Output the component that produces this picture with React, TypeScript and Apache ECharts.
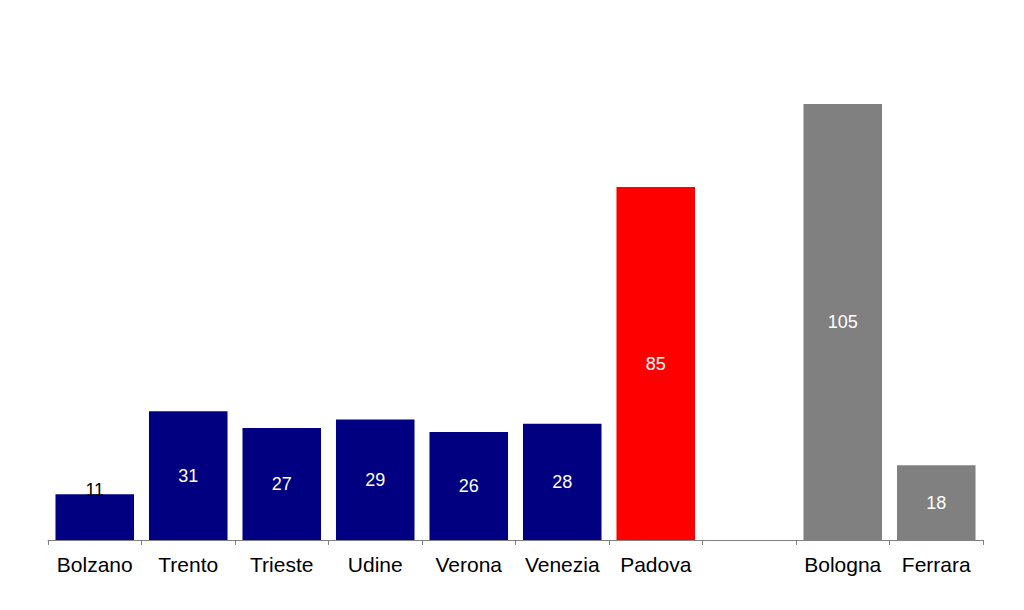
import React, { useEffect, useRef } from "react";
import * as echarts from "echarts";

const categories = ["Bolzano", "Trento", "Trieste", "Udine", "Verona", "Venezia", "Padova", "", "Bologna", "Ferrara"];
const values: (number | null)[] = [11, 31, 27, 29, 26, 28, 85, null, 105, 18];
const colors = ["#000080", "#000080", "#000080", "#000080", "#000080", "#000080", "#FF0000", "#808080", "#808080", "#808080"];

export default function App() {
  const ref = useRef<HTMLDivElement>(null);
  useEffect(() => {
    document.body.style.margin = "0";
    const chart = echarts.init(ref.current!, null, { renderer: "svg" });
    const data = values.map((v, i) => {
      if (v === null) return "-";
      const item: any = { value: v, itemStyle: { color: colors[i] } };
      if (i === 0) {
        item.label = { position: "top", distance: -5, color: "#000000" };
      }
      return item;
    });
    chart.setOption({
      animation: false,
      backgroundColor: "#ffffff",
      grid: { left: 48, right: 41, top: 104, bottom: 70, containLabel: false },
      xAxis: {
        type: "category",
        data: categories,
        axisLine: { lineStyle: { color: "#808080", width: 1 } },
        axisTick: { show: true, length: 5, lineStyle: { color: "#808080" } },
        axisLabel: { color: "#000000", fontSize: 21, fontFamily: "Liberation Sans, Arial, sans-serif", margin: 14, interval: 0 },
      },
      yAxis: { type: "value", min: 0, max: 105, show: false, splitLine: { show: false } },
      series: [
        {
          type: "bar",
          data,
          barCategoryGap: "16%",
          label: {
            show: true,
            position: "inside",
            color: "#ffffff",
            fontSize: 18,
            fontFamily: "Liberation Sans, Arial, sans-serif",
          },
        },
      ],
    });
    return () => chart.dispose();
  }, []);
  return <div ref={ref} style={{ width: 1024, height: 610 }} />;
}
